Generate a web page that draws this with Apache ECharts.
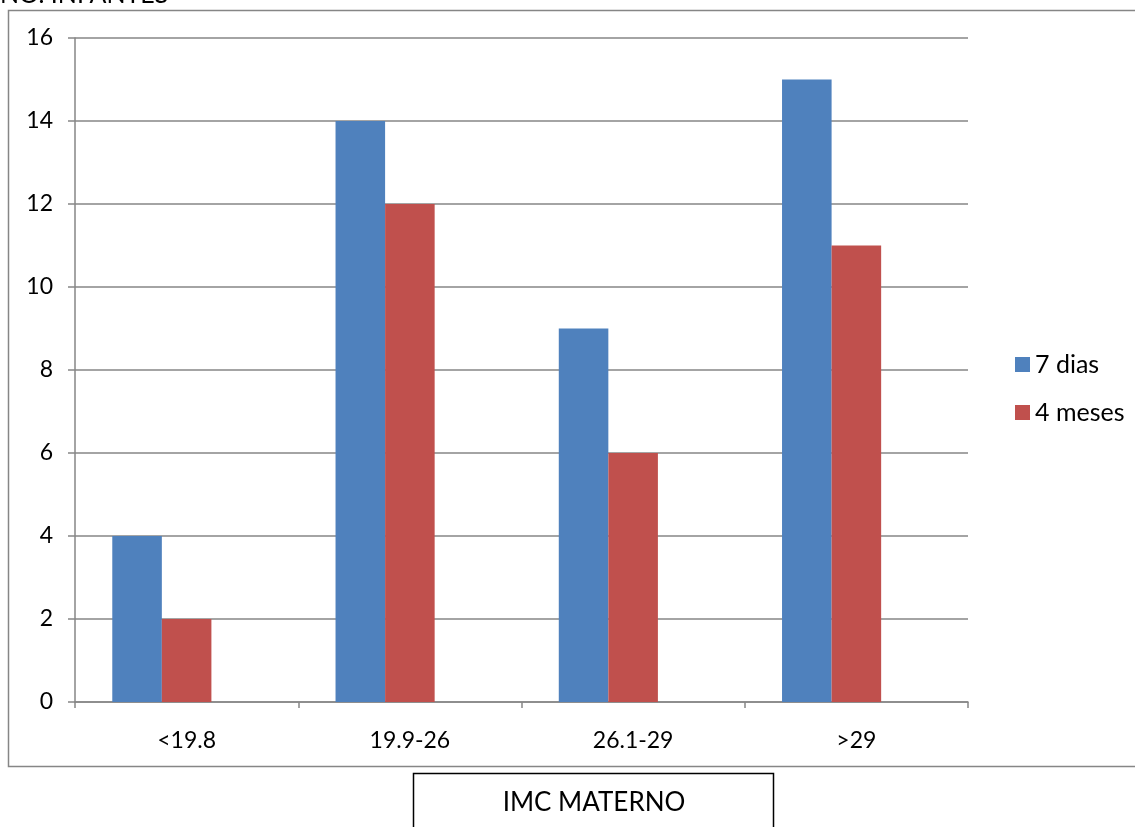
<!DOCTYPE html>
<html>
<head>
<meta charset="utf-8">
<script src="https://cdn.jsdelivr.net/npm/echarts@6/dist/echarts.min.js"></script>
<style>
  html, body { margin: 0; padding: 0; background: #fff; }
  #chart { width: 1135px; height: 827px; }
</style>
</head>
<body>
<div id="chart"></div>
<script>
// Maternal BMI groups and counts at each follow-up
const categories = ['<19.8', '19.9-26', '26.1-29', '>29'];
const sieteDias = [4, 14, 9, 15];
const cuatroMeses = [2, 12, 6, 11];
const emptySlot = [null, null, null, null];
const yTicks = { min: 0, max: 16, interval: 2 };

const FONT = 'Lato, "Open Sans", sans-serif';
const chart = echarts.init(document.getElementById('chart'));

chart.setOption({
  animation: false,
  backgroundColor: '#ffffff',
  textStyle: { fontFamily: FONT },
  grid: { left: 75, right: 167, top: 38, bottom: 125 },
  legend: {
    data: ['7 dias', '4 meses'],
    orient: 'vertical',
    left: 1010,
    top: 347,
    itemWidth: 15,
    itemHeight: 15,
    itemGap: 23,
    icon: 'rect',
    textStyle: { fontSize: 25, color: '#000', fontFamily: FONT }
  },
  xAxis: {
    type: 'category',
    data: categories,
    axisLine: { lineStyle: { color: '#868686', width: 1.5 } },
    axisTick: { show: true, length: 6, alignWithLabel: false, lineStyle: { color: '#868686', width: 1.5 } },
    axisLabel: { fontSize: 23, color: '#000', margin: 27, fontFamily: FONT }
  },
  yAxis: {
    type: 'value',
    min: yTicks.min,
    max: yTicks.max,
    interval: yTicks.interval,
    axisLine: { show: true, lineStyle: { color: '#868686', width: 1.5 } },
    axisTick: { show: true, length: 7, lineStyle: { color: '#868686', width: 1.5 } },
    splitLine: { show: true, lineStyle: { color: '#868686', width: 1.5 } },
    axisLabel: { fontSize: 23, color: '#000', margin: 22, fontFamily: FONT }
  },
  series: [
    {
      name: '7 dias', type: 'bar', data: sieteDias,
      itemStyle: { color: '#4F81BD' },
      barGap: '0%', barCategoryGap: '33.4%'
    },
    {
      name: '4 meses', type: 'bar', data: cuatroMeses,
      itemStyle: { color: '#C0504D' },
      barGap: '0%', barCategoryGap: '33.4%'
    },
    {
      name: 'vacío', type: 'bar', data: emptySlot,
      itemStyle: { color: 'transparent' },
      barGap: '0%', barCategoryGap: '33.4%'
    }
  ],
  graphic: [
    {
      type: 'rect', silent: true, z: -1,
      shape: { x: 8.5, y: 10.5, width: 1200, height: 756 },
      style: { fill: 'none', stroke: '#868686', lineWidth: 1.5 }
    },
    {
      type: 'text', left: 0, top: -18,
      style: { text: 'NO. INFANTES', fontSize: 25, fill: '#000', fontFamily: FONT }
    },
    {
      type: 'rect', silent: true,
      shape: { x: 413.5, y: 773.5, width: 360, height: 80 },
      style: { fill: '#fff', stroke: '#000', lineWidth: 1.5 }
    },
    {
      type: 'text', x: 594, y: 803,
      style: { text: 'IMC MATERNO', fontSize: 26, fill: '#000', fontFamily: FONT, align: 'center', verticalAlign: 'middle' }
    }
  ]
});
</script>
</body>
</html>
